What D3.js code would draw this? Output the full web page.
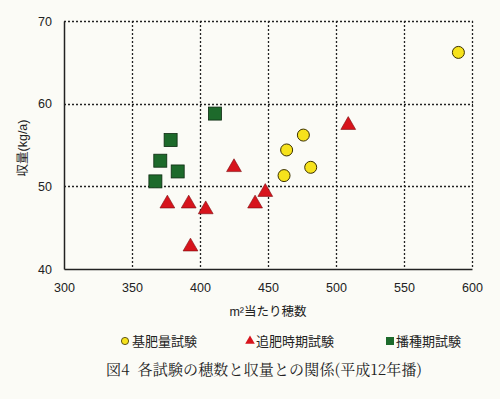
<!DOCTYPE html>
<html>
<head>
<meta charset="utf-8">
<script src="https://cdn.jsdelivr.net/npm/d3@7"></script>
<style>
  body { margin: 0; background: #fbfbf6; }
  svg { display: block; }
</style>
</head>
<body>
<div id="chart"></div>
<script>
const width = 500;
const height = 399;

// 基肥量試験
const kihiX = [590, 476, 463.7, 481.4, 461.8];
const kihiY = [66.2, 56.2, 54.4, 52.3, 51.3];
// 追肥時期試験
const tsuihiX = [509, 425, 448, 440.5, 376, 391.7, 404.2, 393];
const tsuihiY = [57.4, 52.3, 49.3, 47.9, 47.9, 47.9, 47.2, 42.7];
// 播種期試験
const hashuX = [411, 378.4, 370.8, 383.6, 367.2];
const hashuY = [58.8, 55.6, 53.1, 51.8, 50.6];

const xTicks = [300, 350, 400, 450, 500, 550, 600];
const yTicks = [40, 50, 60, 70];
const legendLabels = ['基肥量試験', '追肥時期試験', '播種期試験'];
const xLabel = 'm²当たり穂数';
const yLabel = '収量(kg/a)';
const title = '図4  各試験の穂数と収量との関係(平成12年播)';

const fontSans = 'Arial, "Liberation Sans", "Noto Sans CJK JP", sans-serif';
const fontGothic = '"Noto Sans CJK JP", sans-serif';
const fontMincho = '"Noto Serif CJK JP", "Noto Sans CJK JP", serif';

const svg = d3.select('#chart').append('svg')
    .attr('width', width)
    .attr('height', height);

const xScale = d3.scaleLinear().domain([300, 600]).range([64, 472]);
const yScale = d3.scaleLinear().domain([40, 70]).range([269, 21]);

// dotted gridlines
const grid = svg.append('g').attr('class', 'gridlines');

grid.selectAll('line.v')
    .data(xTicks.slice(1))
    .join('line')
    .attr('class', 'v')
    .attr('x1', d => Math.round(xScale(d)) + 0.5).attr('x2', d => Math.round(xScale(d)) + 0.5)
    .attr('y1', yScale(70)).attr('y2', yScale(40))
    .attr('stroke', '#222').attr('stroke-width', 1.3)
    .attr('stroke-dasharray', '2,2');

grid.selectAll('line.h')
    .data(yTicks.slice(1))
    .join('line')
    .attr('class', 'h')
    .attr('x1', xScale(300)).attr('x2', xScale(600) + 1)
    .attr('y1', d => Math.round(yScale(d)) + 0.5).attr('y2', d => Math.round(yScale(d)) + 0.5)
    .attr('stroke', '#222').attr('stroke-width', 1.3)
    .attr('stroke-dasharray', '2,2');

// axes
const xAxis = d3.axisBottom(xScale).tickValues(xTicks).tickSize(0).tickPadding(14);
const yAxis = d3.axisLeft(yScale).tickValues(yTicks).tickSize(0).tickPadding(12);

svg.append('g')
    .attr('class', 'x-axis')
    .attr('transform', `translate(0, ${yScale(40)})`)
    .call(xAxis)
    .call(g => g.select('.domain').attr('stroke', '#222').attr('stroke-width', 1.5))
    .call(g => g.selectAll('text').attr('font-family', fontSans).attr('font-size', 12.5).attr('fill', '#222'));

svg.append('g')
    .attr('class', 'y-axis')
    .attr('transform', `translate(${xScale(300)}, 0)`)
    .call(yAxis)
    .call(g => g.select('.domain').attr('stroke', '#222').attr('stroke-width', 1.5))
    .call(g => g.selectAll('text').attr('font-family', fontSans).attr('font-size', 12.5).attr('fill', '#222'));

// axis labels
svg.append('text')
    .attr('x', 268).attr('y', 316)
    .attr('text-anchor', 'middle')
    .attr('font-family', fontSans).attr('font-size', 12.5).attr('fill', '#222')
    .text(xLabel);

svg.append('text')
    .attr('transform', 'translate(27, 148) rotate(-90)')
    .attr('text-anchor', 'middle')
    .attr('font-family', fontSans).attr('font-size', 12.5).attr('fill', '#222')
    .text(yLabel);

// points
const dots = svg.append('g').attr('class', 'dots');

const hashu = hashuX.map((x, i) => ({ x, y: hashuY[i] }));
const tsuihi = tsuihiX.map((x, i) => ({ x, y: tsuihiY[i] }));
const kihi = kihiX.map((x, i) => ({ x, y: kihiY[i] }));

dots.selectAll('rect.hashu')
    .data(hashu)
    .join('rect')
    .attr('class', 'hashu')
    .attr('x', d => xScale(d.x) - 6.5).attr('y', d => yScale(d.y) - 6.5)
    .attr('width', 13).attr('height', 13)
    .attr('fill', '#1d6a2b').attr('stroke', '#0c2a10').attr('stroke-width', 0.8);

const tri = d3.symbol().type(d3.symbolTriangle).size(95);
dots.selectAll('path.tsuihi')
    .data(tsuihi)
    .join('path')
    .attr('class', 'tsuihi')
    .attr('transform', d => `translate(${xScale(d.x)}, ${yScale(d.y)})`)
    .attr('d', tri)
    .attr('fill', '#d7141c').attr('stroke', '#7a0a0e').attr('stroke-width', 0.6);

dots.selectAll('circle.kihi')
    .data(kihi)
    .join('circle')
    .attr('class', 'kihi')
    .attr('cx', d => xScale(d.x)).attr('cy', d => yScale(d.y))
    .attr('r', 6)
    .attr('fill', '#f6e21c').attr('stroke', '#3a3000').attr('stroke-width', 1);

// legend
const legend = svg.append('g').attr('class', 'legend')
    .attr('font-family', fontGothic).attr('font-size', 13).attr('fill', '#222');
const legY = 341;

legend.append('circle')
    .attr('cx', 125).attr('cy', legY).attr('r', 3.6)
    .attr('fill', '#f6e21c').attr('stroke', '#3a3000').attr('stroke-width', 0.8);
legend.append('text').attr('x', 132).attr('y', legY + 5).text(legendLabels[0]);

legend.append('path')
    .attr('transform', `translate(250, ${legY})`)
    .attr('d', d3.symbol().type(d3.symbolTriangle).size(40))
    .attr('fill', '#d7141c');
legend.append('text').attr('x', 256).attr('y', legY + 5).text(legendLabels[1]);

legend.append('rect')
    .attr('x', 386).attr('y', legY - 4).attr('width', 8).attr('height', 8)
    .attr('fill', '#1d6a2b');
legend.append('text').attr('x', 396).attr('y', legY + 5).text(legendLabels[2]);

// title
svg.append('text')
    .attr('x', 106).attr('y', 375)
    .attr('font-family', fontMincho).attr('font-size', 15).attr('fill', '#222')
    .attr('textLength', 316).attr('lengthAdjust', 'spacing')
    .style('white-space', 'pre')
    .text(title);
</script>
</body>
</html>
